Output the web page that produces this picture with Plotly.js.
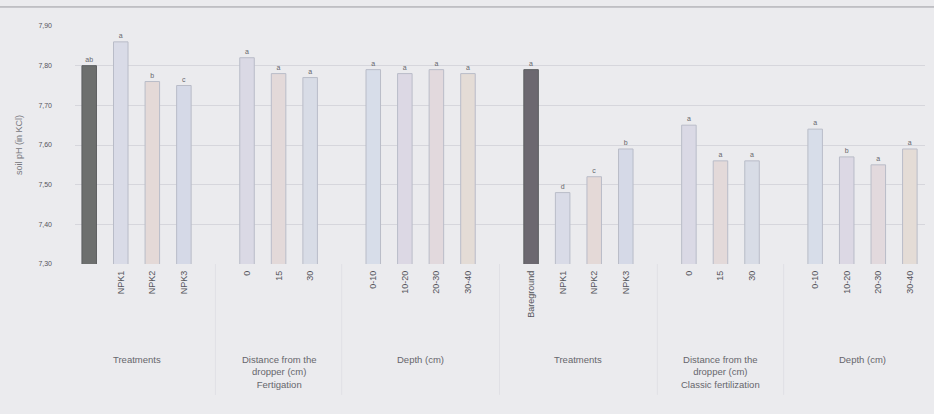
<!DOCTYPE html>
<html><head><meta charset="utf-8">
<script src="https://cdn.plot.ly/plotly-3.0.1.min.js"></script>
<style>html,body{margin:0;padding:0;background:#ebebee}</style>
</head><body><div id="chart" style="width:934px;height:414px"></div>
<script>
// ---- data ----
const groupLabels = [
  "Treatments",
  "Distance from the<br>dropper (cm)<br>Fertigation",
  "Depth (cm)",
  "Treatments",
  "Distance from the<br>dropper (cm)<br>Classic fertilization",
  "Depth (cm)"
];
const fertTreatCats = ["", "NPK1", "NPK2", "NPK3"];
const fertTreatVals = [7.80, 7.86, 7.76, 7.75];
const fertTreatSig  = ["ab", "a", "b", "c"];

const fertDistCats = ["0", "15", "30"];
const fertDistVals = [7.82, 7.78, 7.77];
const fertDistSig  = ["a", "a", "a"];

const fertDepthCats = ["0-10", "10-20", "20-30", "30-40"];
const fertDepthVals = [7.79, 7.78, 7.79, 7.78];
const fertDepthSig  = ["a", "a", "a", "a"];

const clasTreatCats = ["Bareground", "NPK1", "NPK2", "NPK3"];
const clasTreatVals = [7.79, 7.48, 7.52, 7.59];
const clasTreatSig  = ["a", "d", "c", "b"];

const clasDistCats = ["0", "15", "30"];
const clasDistVals = [7.65, 7.56, 7.56];
const clasDistSig  = ["a", "a", "a"];

const clasDepthCats = ["0-10", "10-20", "20-30", "30-40"];
const clasDepthVals = [7.64, 7.57, 7.55, 7.59];
const clasDepthSig  = ["a", "b", "a", "a"];

const yTicks = [7.30, 7.40, 7.50, 7.60, 7.70, 7.80, 7.90];

// ---- build ----
const groups = [
  {cats: fertTreatCats, vals: fertTreatVals, sig: fertTreatSig, kind: "treat", dark: "#6d6f6e"},
  {cats: fertDistCats, vals: fertDistVals, sig: fertDistSig, kind: "dist"},
  {cats: fertDepthCats, vals: fertDepthVals, sig: fertDepthSig, kind: "depth"},
  {cats: clasTreatCats, vals: clasTreatVals, sig: clasTreatSig, kind: "treat", dark: "#6c6870"},
  {cats: clasDistCats, vals: clasDistVals, sig: clasDistSig, kind: "dist"},
  {cats: clasDepthCats, vals: clasDepthVals, sig: clasDepthSig, kind: "depth"}
];
const palettes = {
  treat: [null, "#d9dbe7", "#e4d9d7", "#d5d9e7"],
  dist:  ["#dad9e5", "#e3d9d9", "#d8dce6"],
  depth: ["#d7dde9", "#dcd8e4", "#e2d9dd", "#e4dcd6"]
};

const xs = [], ys = [], texts = [], colors = [], lines = [];
const tickvals = [], ticktext = [];
const annotations = [];
const shapes = [];
let pos = 0, lastX = 0;
groups.forEach((g, gi) => {
  const start = pos;
  g.vals.forEach((v, i) => {
    xs.push(pos); ys.push(v); texts.push(g.sig[i]);
    let c = palettes[g.kind][i];
    if (c === null) c = g.dark;
    colors.push(c);
    lines.push(c === g.dark ? "#5c5e60" : "#b9bcc8");
    tickvals.push(pos); ticktext.push(g.cats[i]);
    lastX = pos;
    pos++;
  });
  const end = pos - 1;
  annotations.push({
    x: (start + end) / 2, xref: "x", y: -0.37, yref: "paper",
    yanchor: "top", xanchor: "center", showarrow: false,
    text: groupLabels[gi], align: "center",
    font: {family: "Liberation Sans, Arial", size: 9.5, color: "#66666c"}
  });
  if (gi < groups.length - 1) {
    shapes.push({type: "line", xref: "x", yref: "paper", x0: pos, x1: pos, y0: 0, y1: -0.55,
      line: {color: "#e0e0e5", width: 1}});
  }
  pos++;
});

const trace = {
  type: "bar", x: xs, y: ys, base: 0,
  width: 0.46,
  marker: {color: colors, line: {color: lines, width: 1}},
  text: texts, textposition: "outside", cliponaxis: false,
  textfont: {family: "Liberation Sans, Arial", size: 7, color: "#66666c"},
  hoverinfo: "skip"
};

const layout = {
  width: 934, height: 414,
  paper_bgcolor: "#ebebee", plot_bgcolor: "#ebebee",
  margin: {l: 75, r: 9, t: 26, b: 150},
  separators: ", ",
  showlegend: false,
  bargap: 0,
  xaxis: {
    range: [-0.45, lastX + 0.48],
    tickmode: "array", tickvals: tickvals, ticktext: ticktext,
    tickangle: -90, ticks: "", ticklabelstandoff: 4,
    tickfont: {family: "Liberation Sans, Arial", size: 9, color: "#55555b"},
    showgrid: false, zeroline: false, showline: false
  },
  yaxis: {
    range: [7.30, 7.90],
    tickmode: "array", tickvals: yTicks, tickformat: ".2f",
    tickfont: {family: "Liberation Sans, Arial", size: 7, color: "#55555b"},
    ticklabelstandoff: 22,
    gridcolor: "#d6d6dc", gridwidth: 1, zeroline: false, showline: false,
    ticks: "", ticklen: 0,
    title: {text: "soil pH (in KCl)", standoff: 14,
      font: {family: "Liberation Sans, Arial", size: 9, color: "#77777d"}}
  },
  annotations: annotations,
  shapes: shapes.concat([
    {type: "line", xref: "paper", yref: "paper", x0: -0.1, x1: 1.02, y0: 1.08, y1: 1.08,
     line: {color: "#9a9aa0", width: 1}}
  ])
};

Plotly.newPlot("chart", [trace], layout, {staticPlot: true, displayModeBar: false});
</script>
</body></html>
